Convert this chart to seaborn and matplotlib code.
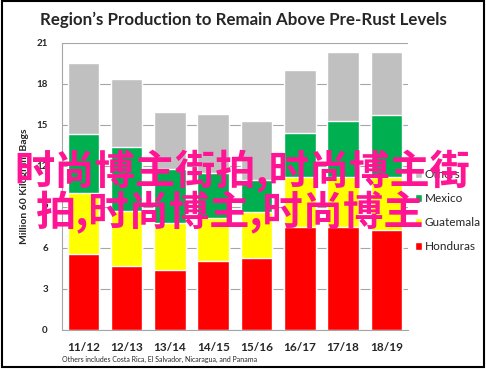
import numpy as np
import pandas as pd
import matplotlib
matplotlib.use("Agg")
import matplotlib.pyplot as plt
from matplotlib.patches import Rectangle
import seaborn as sns

# data (million 60 kg bags)
years = ["11/12", "12/13", "13/14", "14/15", "15/16", "16/17", "17/18", "18/19"]
honduras = [5.55, 4.7, 4.4, 5.05, 5.25, 7.5, 7.5, 7.3]
guatemala = [4.45, 4.0, 3.45, 3.1, 3.35, 3.7, 3.7, 3.9]
mexico = [4.3, 4.7, 3.95, 3.35, 2.4, 3.2, 4.1, 4.5]
others = [5.2, 4.95, 4.15, 4.3, 4.3, 4.6, 5.0, 4.65]

series = ["Others", "Mexico", "Guatemala", "Honduras"]
colors = {"Others": "#c0c0c0", "Mexico": "#00b050",
          "Guatemala": "#ffff00", "Honduras": "#ff0000"}

sns.set_style("white")
plt.rcParams["font.family"] = ["Lato", "DejaVu Sans"]

# cumulative tops, drawn from the tallest down so the bars stack
stack = np.array([honduras, guatemala, mexico, others])
tops = np.cumsum(stack, axis=0)
df = pd.DataFrame({"year": years,
                   "Honduras": tops[0], "Guatemala": tops[1],
                   "Mexico": tops[2], "Others": tops[3]})

fig = plt.figure(figsize=(4.87, 3.69), dpi=100)
ax = fig.add_axes([0.1267, 0.1057, 0.8378 - 0.1267, 0.8843 - 0.1057])

for name in series:
    sns.barplot(data=df, x="year", y=name, color=colors[name], width=0.73,
                saturation=1, label=name, ax=ax, zorder=2)

ax.set_ylim(0, 21)
ax.set_xlim(-0.5, len(years) - 0.5)
ax.set_yticks(range(0, 22, 3))
ax.yaxis.grid(True, color="#a6a6a6", linewidth=0.8, zorder=0)
ax.set_axisbelow(True)
for s in ["top", "right"]:
    ax.spines[s].set_visible(False)
for s in ["left", "bottom"]:
    ax.spines[s].set_color("#a6a6a6")
    ax.spines[s].set_linewidth(0.8)

ax.tick_params(axis="y", length=4, color="#a6a6a6", labelsize=7, pad=6)
ax.tick_params(axis="x", which="major", length=0, labelsize=8.5, pad=9)
ax.set_xticks(np.arange(-0.5, len(years), 1), minor=True)
ax.tick_params(axis="x", which="minor", length=4, color="#a6a6a6")
for lab in ax.get_xticklabels() + ax.get_yticklabels():
    lab.set_fontweight("bold")

ax.set_xlabel("")
ax.set_ylabel("Million 60 Kilogram Bags", fontsize=7.5, fontweight="bold")
ax.yaxis.set_label_coords(-0.095, 0.5)

fig.text(0.5, 0.945, "Region\u2019s Production to Remain Above Pre-Rust Levels",
         ha="center", va="center", fontsize=12.2, fontweight="bold")
fig.text(0.127, 0.027, "Others includes Costa Rica, El Salvador, Nicaragua, and Panama",
         ha="left", va="center", fontsize=5)

handles, labels = ax.get_legend_handles_labels()
ax.legend(handles, labels, loc="upper left", bbox_to_anchor=(0.852, 0.542),
          bbox_transform=fig.transFigure, frameon=False, fontsize=8.5,
          borderpad=0, borderaxespad=0,
          handlelength=0.6, handleheight=0.6, handletextpad=0.25,
          labelspacing=1.1)

# pink overlay text
wm = ["Noto Sans CJK SC", "DejaVu Sans"]
fig.text(0.03, 0.535, "时尚博主街拍,时尚博主街", family=wm, fontsize=29,
         fontweight="bold", color="#ff1493", ha="left", va="center")
fig.text(0.072, 0.423, "拍,时尚博主,时尚博主", family=wm, fontsize=29,
         fontweight="bold", color="#ff1493", ha="left", va="center")

# outer frame
fig.patches.append(Rectangle((0.004, 0.006), 0.99, 0.99, transform=fig.transFigure,
                             fill=False, edgecolor="black", linewidth=1.5))

fig.savefig("out.png", dpi=100)
